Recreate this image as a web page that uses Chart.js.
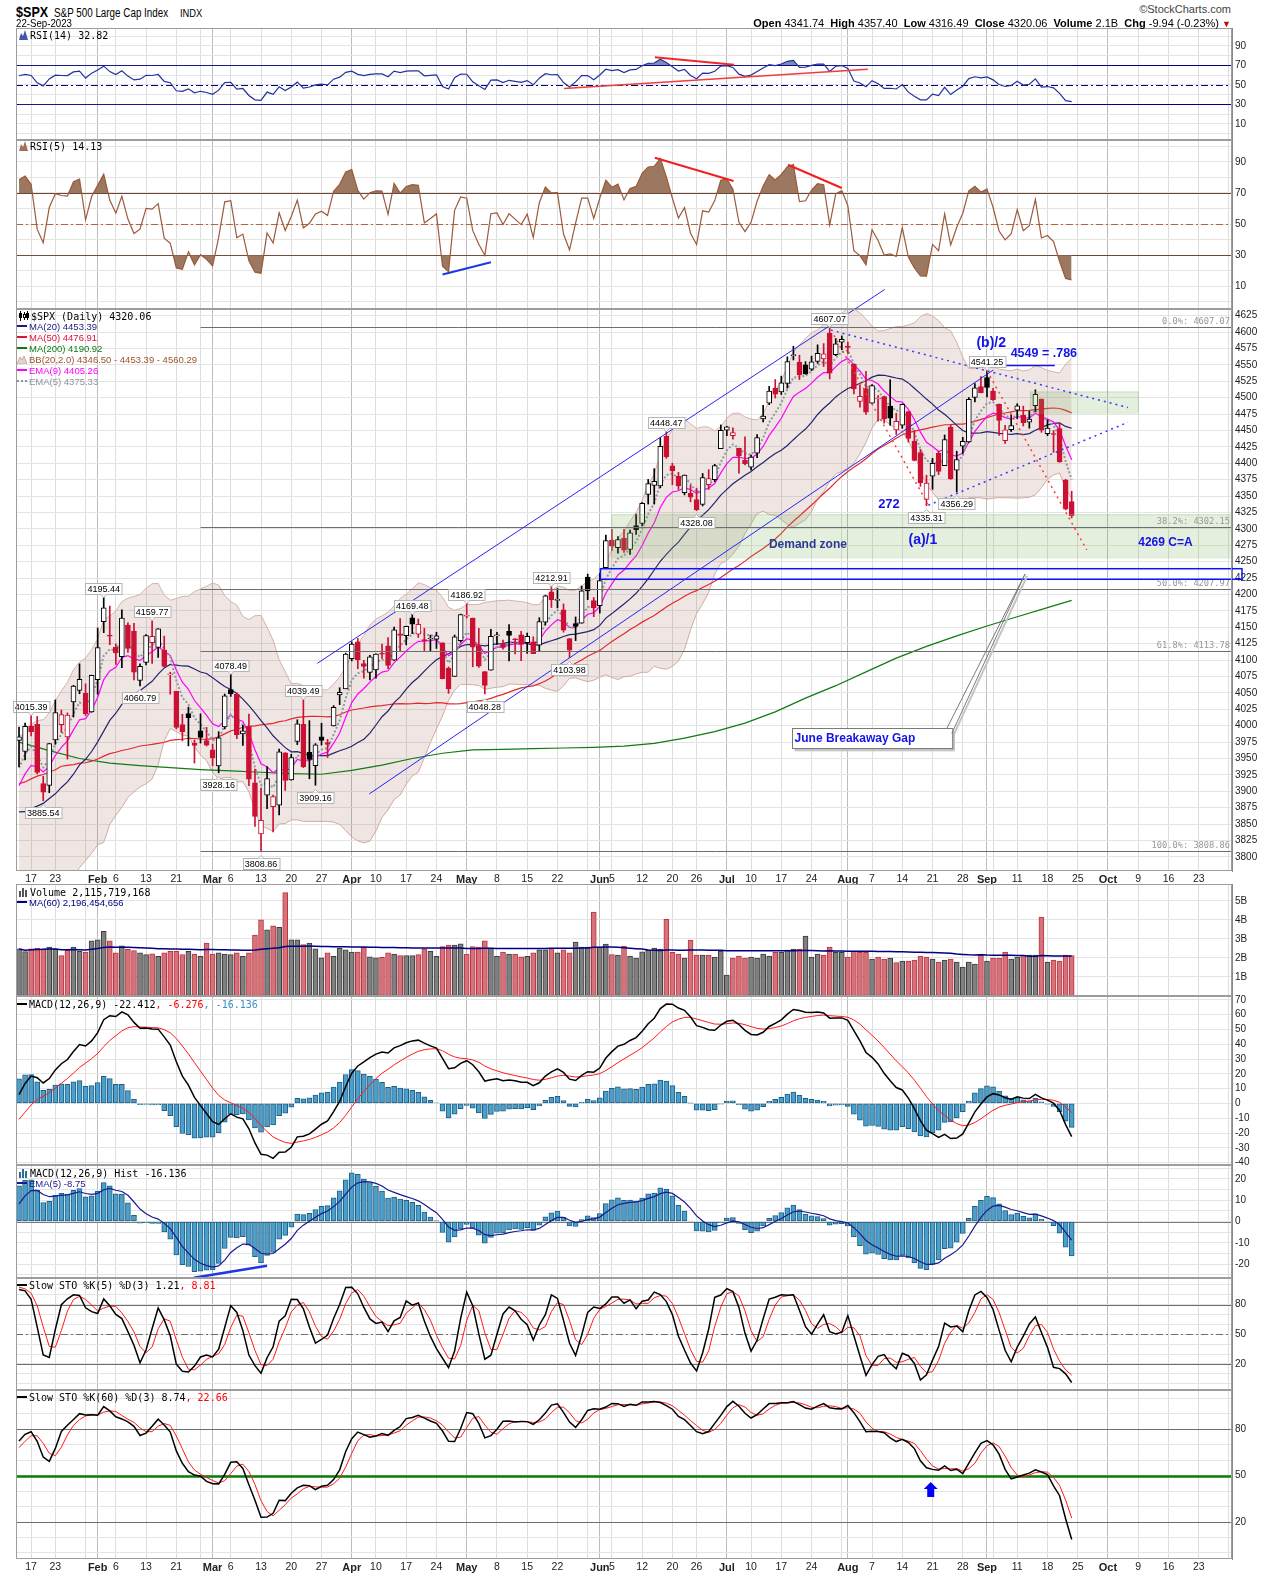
<!DOCTYPE html>
<html>
<head>
<meta charset="utf-8">
<script src="https://cdn.jsdelivr.net/npm/chart.js@4.4.0/dist/chart.umd.min.js"></script>
<style>
  body { margin: 0; background: #fff; }
  #page { position: relative; width: 1275px; height: 1575px; overflow: hidden; background: #fff; font-family: 'Liberation Sans', Arial, sans-serif; }
  canvas { position: absolute; left: 0; z-index: 1; }
  .t { position: absolute; white-space: nowrap; line-height: 1; z-index: 2; }
  .sx { display: inline-block; transform-origin: left center; }
  .mono { font-family: 'DejaVu Sans Mono', monospace; font-size: 10px; color: #000; }
  .sans { font-family: 'Liberation Sans', Arial, sans-serif; font-size: 9.5px; }
  .ico { display: inline-block; vertical-align: -1px; margin-right: 2px; }
  .ln { display: inline-block; width: 10px; height: 0; vertical-align: 3px; margin-right: 2px; }
</style>
</head>
<body>
<div id="page">
  <div class="t" style="left:16px;top:3px;font:bold 15px 'Liberation Sans';"><span class="sx" style="transform:scaleX(0.84);">$SPX</span></div>
  <div class="t" style="left:54px;top:5.5px;font:12px 'Liberation Sans';"><span class="sx" style="transform:scaleX(0.82);">S&amp;P 500 Large Cap Index</span></div>
  <div class="t" style="left:180px;top:6.5px;font:11px 'Liberation Sans';"><span class="sx" style="transform:scaleX(0.85);">INDX</span></div>
  <div class="t" style="left:16px;top:16.5px;font:11px 'Liberation Sans';"><span class="sx" style="transform:scaleX(0.88);">22-Sep-2023</span></div>
  <div class="t" style="right:44px;top:3px;font:11px 'Liberation Sans';color:#444;">©StockCharts.com</div>
  <div class="t" style="right:44px;top:17px;font:11px 'Liberation Sans';color:#000;">
    <b>Open</b> 4341.74&nbsp; <b>High</b> 4357.40&nbsp; <b>Low</b> 4316.49&nbsp; <b>Close</b> 4320.06&nbsp; <b>Volume</b> 2.1B&nbsp; <b>Chg</b> -9.94 (-0.23%) <span style="color:#c00;font-size:9px;">▼</span>
  </div>

  <div class="t mono" style="left:19px;top:30px;"><svg class="ico" width="9" height="10"><path d="M0 10L2 3L4 6L6 0L9 10Z" fill="#4455aa"/></svg>RSI(14) 32.82</div>
  <div class="t mono" style="left:19px;top:141px;"><svg class="ico" width="9" height="10"><path d="M0 10L2 3L4 6L6 0L9 10Z" fill="#a0705a"/></svg>RSI(5) 14.13</div>

  <div class="t mono" style="left:18px;top:311px;"><svg class="ico" width="11" height="10"><path d="M2.5 0v10M6.5 1v8M9.5 0v9" stroke="#000"/><rect x="1" y="2" width="3" height="5"/><rect x="5.5" y="3.5" width="2" height="3" fill="#fff" stroke="#000"/><rect x="8" y="2" width="3" height="5"/></svg>$SPX (Daily) 4320.06</div>
  <div class="t sans" style="left:17px;top:322px;color:#1a1a80;"><span class="ln" style="border-top:2px solid #1a1a80;"></span>MA(20) 4453.39</div>
  <div class="t sans" style="left:17px;top:333px;color:#e0103a;"><span class="ln" style="border-top:2px solid #e0103a;"></span>MA(50) 4476.91</div>
  <div class="t sans" style="left:17px;top:344px;color:#107a10;"><span class="ln" style="border-top:2px solid #107a10;"></span>MA(200) 4190.92</div>
  <div class="t sans" style="left:17px;top:355px;color:#a0522d;"><svg class="ico" width="10" height="9"><path d="M0 9L3 2L5 5L7 1L10 9Z" fill="#e6d3cc" stroke="#c9a89c"/></svg>BB(20,2.0) 4346.50 - 4453.39 - 4560.29</div>
  <div class="t sans" style="left:17px;top:366px;color:#ff00ff;"><span class="ln" style="border-top:2px solid #ff00ff;"></span>EMA(9) 4405.26</div>
  <div class="t sans" style="left:17px;top:377px;color:#8a949e;"><span class="ln" style="border-top:2px dotted #8a949e;"></span>EMA(5) 4375.33</div>

  <div class="t mono" style="left:19px;top:887px;"><svg class="ico" width="9" height="10"><rect x="0" y="4" width="2" height="6" fill="#555"/><rect x="3" y="1" width="2" height="9" fill="#555"/><rect x="6" y="3" width="2" height="7" fill="#555"/></svg>Volume 2,115,719,168</div>
  <div class="t sans" style="left:17px;top:898px;color:#000080;"><span class="ln" style="border-top:2px solid #000080;"></span>MA(60) 2,196,454,656</div>

  <div class="t mono" style="left:17px;top:1000px;"><span class="ln" style="border-top:2px solid #000;"></span>MACD(12,26,9) -22.412<span style="color:#ff0000;">, -6.276</span><span style="color:#3b8fd0;">, -16.136</span></div>

  <div class="t mono" style="left:19px;top:1168px;"><svg class="ico" width="9" height="10"><rect x="0" y="4" width="2" height="6" fill="#2b6d96"/><rect x="3" y="1" width="2" height="9" fill="#2b6d96"/><rect x="6" y="3" width="2" height="7" fill="#2b6d96"/></svg>MACD(12,26,9) Hist -16.136</div>
  <div class="t sans" style="left:17px;top:1179px;color:#1a1a90;"><span class="ln" style="border-top:2px solid #1a1a90;"></span>EMA(5) -8.75</div>

  <div class="t mono" style="left:17px;top:1281px;"><span class="ln" style="border-top:2px solid #000;"></span>Slow STO %K(5) %D(3) 1.21<span style="color:#ff0000;">, 8.81</span></div>
  <div class="t mono" style="left:17px;top:1393px;"><span class="ln" style="border-top:2px solid #000;"></span>Slow STO %K(60) %D(3) 8.74<span style="color:#ff0000;">, 22.66</span></div>
</div>

<script>
// closes before the visible window (Oct 3 2022 - Jan 11 2023), used to seed the indicators
const priorCloses = [
  3678.43, 3790.93, 3783.28, 3744.52, 3639.66, 3612.39, 3588.84, 3577.03, 3669.91, 3583.07, 3677.95,
  3719.98, 3695.16, 3665.78, 3752.75, 3797.34, 3859.11, 3830.60, 3807.30, 3901.06, 3871.98,
  3856.10, 3759.69, 3719.89, 3770.55, 3806.80, 3828.11, 3748.57, 3956.37, 3992.93, 3957.25, 3991.73,
  3958.79, 3946.56, 3965.34, 3949.94, 4003.58, 4027.26, 4026.12, 3963.94, 3957.63, 4080.11,
  4076.57, 4071.70, 3998.84, 3941.26, 3933.92, 3963.51, 3934.38, 3990.56, 4019.65, 3995.32, 3895.75,
  3852.36, 3817.66, 3821.62, 3878.44, 3822.39, 3844.82, 3829.25, 3783.22, 3849.28, 3839.50,
  3824.14, 3852.97, 3808.10, 3895.08, 3892.09, 3919.25, 3969.61
];

const dates = [
  '01-12','01-13','01-17','01-18','01-19','01-20','01-23','01-24','01-25','01-26','01-27','01-30','01-31',
  '02-01','02-02','02-03','02-06','02-07','02-08','02-09','02-10','02-13','02-14','02-15','02-16','02-17','02-21','02-22','02-23','02-24','02-27','02-28',
  '03-01','03-02','03-03','03-06','03-07','03-08','03-09','03-10','03-13','03-14','03-15','03-16','03-17','03-20','03-21','03-22','03-23','03-24','03-27','03-28','03-29','03-30','03-31',
  '04-03','04-04','04-05','04-06','04-10','04-11','04-12','04-13','04-14','04-17','04-18','04-19','04-20','04-21','04-24','04-25','04-26','04-27','04-28',
  '05-01','05-02','05-03','05-04','05-05','05-08','05-09','05-10','05-11','05-12','05-15','05-16','05-17','05-18','05-19','05-22','05-23','05-24','05-25','05-26','05-30','05-31',
  '06-01','06-02','06-05','06-06','06-07','06-08','06-09','06-12','06-13','06-14','06-15','06-16','06-20','06-21','06-22','06-23','06-26','06-27','06-28','06-29','06-30',
  '07-03','07-05','07-06','07-07','07-10','07-11','07-12','07-13','07-14','07-17','07-18','07-19','07-20','07-21','07-24','07-25','07-26','07-27','07-28','07-31',
  '08-01','08-02','08-03','08-04','08-07','08-08','08-09','08-10','08-11','08-14','08-15','08-16','08-17','08-18','08-21','08-22','08-23','08-24','08-25','08-28','08-29','08-30','08-31',
  '09-01','09-05','09-06','09-07','09-08','09-11','09-12','09-13','09-14','09-15','09-18','09-19','09-20','09-21','09-22'
];
const futureDates = ['09-25','09-26','09-27','09-28','09-29','10-02','10-03','10-04','10-05','10-06','10-09','10-10','10-11','10-12','10-13',
  '10-16','10-17','10-18','10-19','10-20','10-23','10-24','10-25','10-26','10-27','10-30'];

const opens = [
  3977.57,3960.60,3999.28,4002.25,3911.84,3909.04,3978.14,4001.74,3982.71,4036.08,4053.72,4049.27,4020.85,
  4070.07,4158.68,4136.69,4119.57,4105.35,4153.47,4144.25,4068.92,4096.62,4126.70,4119.50,4114.75,4077.39,4052.35,4001.83,4018.60,3973.24,3992.36,3977.19,
  3963.34,3938.68,3998.02,4055.15,4048.26,3987.55,3998.66,3912.77,3835.12,3894.01,3876.74,3878.93,3958.69,3917.47,3975.89,4002.04,3959.21,3939.21,3982.93,3974.13,3999.53,4046.74,4056.18,
  4102.20,4128.03,4094.50,4081.15,4085.20,4110.29,4121.72,4100.04,4140.11,4137.17,4164.26,4139.33,4130.48,4132.14,4132.07,4126.43,4087.78,4075.29,4129.63,
  4166.79,4164.10,4122.25,4082.61,4084.73,4136.98,4124.25,4143.74,4132.24,4138.54,4126.65,4127.95,4122.85,4157.68,4204.15,4190.78,4176.80,4132.96,4155.71,4156.16,4226.71,4190.74,
  4183.03,4241.01,4282.99,4271.34,4285.47,4268.69,4304.88,4308.32,4352.61,4366.29,4365.33,4440.95,4396.11,4380.01,4355.40,4354.17,4344.84,4337.36,4367.48,4374.94,4422.44,
  4450.48,4442.04,4422.62,4404.54,4394.23,4415.55,4467.69,4491.50,4514.61,4508.86,4521.78,4563.87,4554.38,4550.16,4543.39,4555.19,4558.96,4598.26,4565.75,4584.82,
  4578.83,4550.93,4494.27,4513.96,4491.58,4498.03,4501.57,4487.16,4450.69,4458.13,4478.87,4433.79,4416.32,4344.88,4380.28,4415.33,4396.44,4455.16,4389.38,4426.03,4432.75,4500.34,4517.01,
  4530.60,4510.06,4490.35,4434.55,4451.30,4480.98,4473.27,4462.65,4487.78,4497.98,4445.13,4445.41,4452.81,4374.36,4341.74
];
const highs = [
  3997.76,4003.95,4015.39,4014.16,3922.94,3972.96,4039.31,4023.92,4019.55,4061.57,4094.21,4063.85,4077.16,
  4148.95,4195.44,4182.36,4124.63,4176.54,4156.85,4156.23,4094.36,4138.90,4159.77,4148.11,4136.54,4081.51,4052.35,4017.37,4028.30,3978.25,4018.05,3997.50,
  3971.73,3990.84,4048.29,4078.49,4050.00,4000.41,4017.81,3934.05,3905.05,3937.29,3894.26,3964.46,3958.91,3956.62,4009.08,4039.49,4007.66,3972.74,4003.83,3979.20,4030.59,4057.85,4110.75,
  4127.66,4133.13,4099.69,4107.32,4109.50,4124.26,4134.37,4150.26,4163.19,4151.72,4169.48,4162.57,4148.57,4138.02,4142.41,4126.43,4089.67,4138.24,4170.06,
  4186.92,4164.10,4148.30,4082.61,4147.02,4142.30,4130.35,4154.28,4132.80,4143.74,4141.25,4135.54,4164.67,4199.12,4212.91,4209.22,4185.68,4132.96,4165.74,4212.87,4231.10,4195.44,
  4232.43,4290.67,4299.28,4288.33,4299.19,4298.01,4322.62,4340.13,4375.37,4391.82,4439.20,4448.47,4400.15,4386.22,4382.25,4366.55,4362.06,4384.42,4390.35,4398.39,4458.48,
  4456.46,4454.06,4422.62,4440.39,4412.60,4443.64,4488.34,4517.38,4527.76,4532.85,4562.30,4578.43,4564.74,4555.00,4563.41,4580.62,4582.47,4607.07,4590.16,4594.22,
  4584.62,4550.93,4519.49,4540.34,4519.84,4503.31,4502.44,4527.37,4476.23,4490.33,4478.87,4449.95,4421.17,4381.82,4407.55,4418.59,4443.18,4458.30,4418.46,4439.56,4500.14,4521.65,4532.26,
  4541.25,4514.29,4490.35,4457.81,4473.53,4490.77,4487.11,4479.39,4511.99,4497.98,4466.36,4449.85,4461.03,4375.70,4357.40
];
const lows = [
  3937.56,3947.67,3984.57,3926.59,3885.54,3897.86,3971.64,3989.79,3949.06,4013.29,4048.70,4015.55,4020.44,
  4048.00,4141.88,4123.36,4093.38,4088.39,4111.67,4069.67,4060.79,4092.67,4095.01,4103.98,4089.49,4047.95,3995.19,3976.90,3969.19,3943.08,3973.55,3968.98,
  3939.05,3928.16,3995.17,4044.61,3980.31,3969.76,3908.70,3846.32,3808.86,3873.63,3838.24,3864.11,3901.27,3916.89,3971.19,3936.17,3919.05,3909.16,3970.49,3951.53,3999.53,4032.10,4056.18,
  4098.79,4086.87,4072.56,4069.84,4072.55,4102.61,4086.94,4099.40,4113.20,4123.18,4140.36,4134.49,4114.57,4113.86,4117.77,4071.38,4049.35,4075.29,4127.18,
  4164.12,4089.72,4088.86,4048.28,4084.73,4123.81,4116.65,4098.92,4109.29,4099.12,4110.27,4109.86,4113.62,4153.50,4180.20,4179.68,4142.54,4103.98,4129.73,4156.16,4192.18,4166.15,
  4171.64,4241.01,4266.82,4263.09,4263.96,4261.07,4291.70,4304.37,4337.86,4337.85,4362.60,4407.44,4367.19,4360.14,4351.82,4341.34,4328.08,4335.00,4360.22,4371.97,4422.44,
  4442.29,4436.61,4385.05,4397.40,4389.92,4408.46,4463.23,4489.36,4499.56,4504.90,4514.59,4557.48,4527.56,4535.79,4541.29,4552.42,4547.58,4528.56,4564.01,4573.14,
  4567.53,4505.75,4485.54,4474.55,4491.15,4464.39,4461.33,4457.92,4443.98,4453.44,4432.19,4403.55,4364.83,4335.31,4360.30,4382.77,4396.44,4375.55,4356.29,4414.98,4431.68,4493.59,4507.39,
  4501.35,4496.01,4442.38,4430.46,4448.38,4467.89,4456.83,4453.52,4478.69,4447.21,4442.11,4416.61,4401.38,4329.17,4316.49
];
const closes = [
  3983.17,3999.09,3990.97,3928.86,3898.85,3972.61,4019.81,4016.95,4016.22,4060.43,4070.56,4017.77,4076.60,
  4119.21,4179.76,4136.48,4111.08,4164.00,4117.86,4081.50,4090.46,4137.29,4136.13,4147.60,4090.41,4079.09,3997.34,3991.05,4012.32,3970.04,3982.24,3970.15,
  3951.39,3981.35,4045.64,4048.42,3986.37,3992.01,3918.32,3861.59,3855.76,3919.29,3891.93,3960.28,3916.64,3951.57,4002.87,3936.97,3948.72,3970.99,3977.53,3971.27,4027.81,4050.83,4109.31,
  4124.51,4100.60,4090.38,4105.02,4109.11,4108.94,4091.95,4146.22,4137.64,4151.32,4154.87,4154.52,4129.79,4133.52,4137.04,4071.63,4055.99,4135.35,4169.48,
  4167.87,4119.58,4090.75,4061.22,4136.25,4138.12,4119.17,4137.64,4130.62,4124.08,4136.28,4109.90,4158.77,4198.05,4191.98,4192.63,4145.58,4115.24,4151.28,4205.45,4205.52,4179.83,
  4221.02,4282.37,4273.79,4283.85,4267.52,4293.93,4298.86,4338.93,4369.01,4372.59,4425.84,4409.59,4388.71,4365.69,4381.89,4348.33,4328.82,4378.41,4376.86,4396.44,4450.38,
  4455.59,4446.82,4411.59,4398.95,4409.53,4439.26,4472.16,4510.04,4505.42,4522.79,4554.98,4565.72,4534.87,4536.34,4554.64,4567.46,4566.75,4537.41,4582.23,4588.96,
  4576.73,4513.39,4501.89,4478.03,4518.44,4499.38,4467.71,4468.83,4464.05,4489.72,4437.86,4404.33,4370.36,4369.71,4399.77,4387.55,4436.01,4376.31,4405.71,4433.31,4497.63,4514.87,4507.66,
  4515.77,4496.83,4465.48,4451.14,4457.49,4487.46,4461.90,4467.44,4505.10,4450.32,4453.53,4443.95,4402.20,4330.00,4320.06
];
// volume in billions of shares
const volumes = [
  2.47,2.33,2.47,2.52,2.47,2.57,2.47,2.12,2.40,2.57,2.35,2.30,2.90,
  2.95,3.40,2.90,2.26,2.64,2.45,2.38,2.26,2.17,2.22,2.08,2.26,2.34,2.34,2.17,2.34,2.20,2.08,2.78,
  2.20,2.26,2.20,2.17,2.26,2.08,2.26,3.20,4.00,3.47,3.68,3.60,5.43,2.95,2.95,2.70,2.78,2.48,2.00,2.26,2.08,2.50,2.43,
  2.30,2.30,2.57,2.05,2.00,2.03,2.26,2.20,2.12,2.12,2.12,2.17,2.47,2.34,2.08,2.60,2.67,2.67,2.74,
  2.20,2.60,2.57,2.90,2.52,2.08,2.30,2.20,2.20,2.05,2.08,2.26,2.43,2.43,2.52,2.26,2.43,2.26,2.83,2.57,2.57,4.40,
  2.57,2.73,2.17,2.15,2.62,2.09,1.99,2.32,2.41,2.51,2.46,4.03,2.29,2.20,1.99,2.93,2.15,2.15,2.15,2.04,2.36,
  1.10,1.99,2.09,1.99,2.04,1.99,2.20,2.09,2.29,2.29,2.41,2.46,2.46,3.14,2.04,2.20,2.15,2.57,2.29,2.29,
  2.04,2.36,2.29,2.29,1.94,2.04,1.94,1.99,1.75,1.83,1.83,1.88,2.09,2.04,1.94,1.78,1.88,1.94,1.78,1.52,1.78,1.68,2.20,
  1.83,1.99,1.99,2.30,1.94,2.04,2.15,2.15,2.15,4.14,1.78,1.88,1.83,2.15,2.12
];
// 200-day average
const ma200Dates = ['01-12','01-20','01-27','02-03','02-10','02-17','02-27','03-06','03-13','03-20','03-27','04-03','04-11','04-18','04-25',
  '05-02','05-09','05-16','05-23','05-31','06-07','06-14','06-22','06-29','07-07','07-14','07-21','07-28','08-04','08-11','08-18','08-25','09-01','09-11','09-18','09-22'];
const ma200Values = [3975,3962,3950,3943,3939,3936,3933,3931,3929,3927,3926,3932,3940,3950,3958,
  3963,3964,3965,3966,3967,3969,3973,3981,3991,4004,4021,4042,4061,4082,4103,4121,4137,4152,4166,4180,4191];

const weekStartDates = ['01-17','01-23','01-30','02-06','02-13','02-21','02-27','03-06','03-13','03-20','03-27','04-03','04-10','04-17','04-24',
  '05-01','05-08','05-15','05-22','05-30','06-05','06-12','06-20','06-26','07-03','07-10','07-17','07-24','07-31','08-07','08-14','08-21','08-28',
  '09-05','09-11','09-18','09-25','10-02','10-09','10-16','10-23','10-30'];
const weekLabelDates = ['01-17','01-23','02-06','02-13','02-21','03-06','03-13','03-20','03-27','04-10','04-17','04-24','05-08','05-15','05-22',
  '06-05','06-12','06-20','06-26','07-10','07-17','07-24','08-07','08-14','08-21','08-28','09-11','09-18','09-25','10-09','10-16','10-23'];
const weekLabelTexts = ['17','23','6','13','21','6','13','20','27','10','17','24','8','15','22',
  '5','12','20','26','10','17','24','7','14','21','28','11','18','25','9','16','23'];
const monthLabelDates = ['02-01','03-01','04-03','05-01','06-01','07-03','08-01','09-01','10-02'];
const monthLabelTexts = ['Feb','Mar','Apr','May','Jun','Jul','Aug','Sep','Oct'];

const pivotDates = ['01-17','01-19','02-02','02-10','02-14','03-02','03-06','03-13','03-22','03-24','04-18','05-01','05-04','05-19','05-24','06-16','06-26','07-27','08-18','08-25','09-01'];
const pivotKinds = ['h','l','h','l','h','l','h','l','h','l','h','h','l','h','l','h','l','h','l','l','h'];
const fibLevels = [4607.07, 4302.15, 4207.97, 4113.78, 3808.86];
const fibNames = ['0.0%', '38.2%', '50.0%', '61.8%', '100.0%'];

// ---------- indicators ----------
const W = priorCloses.length;
const allC = priorCloses.concat(closes);
const allH = priorCloses.concat(highs);
const allL = priorCloses.concat(lows);
const tail = a => a.slice(W);

function sma(a, n) {
  return a.map((v, i) => {
    if (i < n - 1) return null;
    let s = 0;
    for (let j = i - n + 1; j <= i; j++) { if (a[j] == null) return null; s += a[j]; }
    return s / n;
  });
}
function stdev(a, n) {
  const m = sma(a, n);
  return a.map((v, i) => {
    if (m[i] == null) return null;
    let s = 0;
    for (let j = i - n + 1; j <= i; j++) s += (a[j] - m[i]) ** 2;
    return Math.sqrt(s / n);
  });
}
function ema(a, n) {
  const k = 2 / (n + 1);
  let e = null, s = 0, c = 0;
  return a.map(v => {
    if (v == null) return null;
    if (e == null) { s += v; c++; if (c < n) return null; e = s / n; return e; }
    e = v * k + e * (1 - k);
    return e;
  });
}
function rsi(a, n) {
  const out = a.map(() => null);
  let g = 0, l = 0;
  for (let i = 1; i <= n; i++) { const d = a[i] - a[i - 1]; if (d > 0) g += d; else l -= d; }
  g /= n; l /= n;
  out[n] = 100 - 100 / (1 + g / l);
  for (let i = n + 1; i < a.length; i++) {
    const d = a[i] - a[i - 1];
    g = (g * (n - 1) + Math.max(d, 0)) / n;
    l = (l * (n - 1) + Math.max(-d, 0)) / n;
    out[i] = l === 0 ? 100 : 100 - 100 / (1 + g / l);
  }
  return out;
}
function slowSto(n) {
  const fast = allC.map((c, i) => {
    if (i < n - 1) return null;
    let hh = -Infinity, ll = Infinity;
    for (let j = i - n + 1; j <= i; j++) { hh = Math.max(hh, allH[j]); ll = Math.min(ll, allL[j]); }
    return (c - ll) / (hh - ll) * 100;
  });
  const k = sma(fast, 3);
  return [tail(k), tail(sma(k, 3))];
}

const ma20 = tail(sma(allC, 20));
const ma50 = tail(sma(allC, 50));
const sd20 = tail(stdev(allC, 20));
const bbUp = ma20.map((m, i) => m + 2 * sd20[i]);
const bbLo = ma20.map((m, i) => m - 2 * sd20[i]);
const ema9 = tail(ema(allC, 9));
const ema5 = tail(ema(allC, 5));
const ma200 = dates.map(d => { const k = ma200Dates.indexOf(d); return k < 0 ? null : ma200Values[k]; });
const rsi14 = tail(rsi(allC, 14));
const rsi5 = tail(rsi(allC, 5));
const e12 = ema(allC, 12), e26 = ema(allC, 26);
const macdAll = e12.map((v, i) => v == null || e26[i] == null ? null : v - e26[i]);
const sigAll = ema(macdAll, 9);
const histAll = macdAll.map((v, i) => v == null || sigAll[i] == null ? null : v - sigAll[i]);
const macd = tail(macdAll), signal = tail(sigAll), hist = tail(histAll), histEma5 = tail(ema(histAll, 5));
const [sto5K, sto5D] = slowSto(5);
const [sto60K, sto60D] = slowSto(60);
const volMA60 = volumes.map((v, i) => {
  const s = volumes.slice(Math.max(0, i - 59), i + 1);
  return s.reduce((a, b) => a + b, 0) / s.length;
});

const prevClose = i => (i ? closes[i - 1] : priorCloses[W - 1]);
const candleColor = closes.map((c, i) => (c >= prevClose(i) ? '#000000' : '#cc1034'));
const bodyFill = closes.map((c, i) => (c >= opens[i] ? '#ffffff' : candleColor[i]));
const volFill = candleColor.map(c => (c === '#000000' ? '#808080' : '#d4737b'));
const volLine = candleColor.map(c => (c === '#000000' ? '#3c3c3c' : '#c0323e'));

// ---------- axes ----------
const allDates = dates.concat(futureDates);
const xTickText = allDates.map(d => {
  const m = monthLabelDates.indexOf(d);
  if (m >= 0) return monthLabelTexts[m];
  const w = weekLabelDates.indexOf(d);
  return w >= 0 ? weekLabelTexts[w] : '';
});
const isMonth = allDates.map(d => monthLabelDates.includes(d));
const isWeek = allDates.map(d => weekStartDates.includes(d));

Chart.defaults.font.family = "'Liberation Sans', Arial, sans-serif";

const frame = {
  id: 'frame',
  afterDraw(c) {
    const a = c.chartArea, ctx = c.ctx;
    ctx.save();
    ctx.strokeStyle = '#9d9d9d';
    ctx.lineWidth = 1;
    ctx.strokeRect(Math.round(a.left) + 0.5, Math.round(a.top) + 0.5, Math.round(a.width) - 1, Math.round(a.height) - 1);
    ctx.restore();
  }
};
const hlines = list => ({
  id: 'hlines',
  beforeDatasetsDraw(c) {
    const { ctx, chartArea: a, scales: { y } } = c;
    ctx.save();
    list.forEach(h => {
      const py = Math.round(y.getPixelForValue(h.v)) + 0.5;
      ctx.strokeStyle = h.color;
      ctx.lineWidth = h.w || 1;
      ctx.setLineDash(h.dash || []);
      ctx.beginPath(); ctx.moveTo(a.left, py); ctx.lineTo(a.right, py); ctx.stroke();
    });
    ctx.restore();
  }
});
const segs = list => ({
  id: 'segs',
  afterDatasetsDraw(c) {
    const { ctx, scales: { x, y } } = c;
    ctx.save();
    list.forEach(s => {
      ctx.strokeStyle = s.color;
      ctx.lineWidth = s.w;
      ctx.setLineDash(s.dash || []);
      ctx.beginPath();
      ctx.moveTo(x.getPixelForValue(s.a[0]), y.getPixelForValue(s.a[1]));
      ctx.lineTo(x.getPixelForValue(s.b[0]), y.getPixelForValue(s.b[1]));
      ctx.stroke();
    });
    ctx.restore();
  }
});

function panel(top, bottom, cfg) {
  const padTop = cfg.padTop || 0, lab = cfg.xLabels ? 14 : 0;
  const cv = document.createElement('canvas');
  cv.width = 1275;
  cv.height = bottom - top + padTop + lab;
  cv.style.top = (top - padTop) + 'px';
  document.getElementById('page').appendChild(cv);
  return new Chart(cv, {
    type: 'bar',
    data: { labels: allDates, datasets: cfg.datasets },
    options: {
      responsive: false,
      animation: false,
      devicePixelRatio: 1,
      events: [],
      layout: { padding: { top: padTop, left: 16, right: 0, bottom: 0 } },
      plugins: { legend: { display: false }, tooltip: { enabled: false } },
      scales: {
        x: {
          type: 'category',
          offset: true,
          afterFit: s => { s.height = lab; s.paddingLeft = 0; s.paddingRight = 0; },
          ticks: {
            display: !!cfg.xLabels,
            autoSkip: false,
            maxRotation: 0,
            minRotation: 0,
            padding: 2,
            color: '#222',
            callback: (v, i) => xTickText[i],
            font: c => ({ size: isMonth[c.index] ? 11 : 10.5, weight: isMonth[c.index] ? 'bold' : 'normal' })
          },
          grid: {
            offset: false,
            drawTicks: false,
            color: c => (isMonth[c.index] ? '#bcbcbc' : isWeek[c.index] ? '#dedede' : 'rgba(0,0,0,0)')
          },
          border: { display: false }
        },
        y: {
          position: 'right',
          min: cfg.min,
          max: cfg.max,
          afterFit: s => { s.width = 43; s.paddingTop = 0; s.paddingBottom = 0; },
          ticks: {
            stepSize: cfg.step,
            maxTicksLimit: 200,
            autoSkip: false,
            includeBounds: false,
            padding: 3,
            color: '#222',
            font: { size: 10 },
            callback: cfg.label
          },
          grid: { color: '#e4e4e4', drawTicks: false },
          border: { display: true, color: '#8a8a8a' }
        }
      }
    },
    plugins: [frame].concat(cfg.plugins || [])
  });
}

const line = (data, color, w, extra) => Object.assign({ type: 'line', data, borderColor: color, borderWidth: w, pointRadius: 0, tension: 0, fill: false }, extra || {});
const every = list => v => (list.includes(v) ? String(v) : '');

// ---------- RSI(14) ----------
panel(28, 140, {
  min: -6.6, max: 108.3, step: 10, label: every([90, 70, 50, 30, 10]),
  datasets: [
    line(rsi14, '#2233a0', 1.2, { fill: { target: { value: 70 }, above: '#7d8cb4', below: 'rgba(0,0,0,0)' } }),
    line(rsi14, 'rgba(0,0,0,0)', 0, { fill: { target: { value: 30 }, above: 'rgba(0,0,0,0)', below: '#7d8cb4' } })
  ],
  plugins: [
    hlines([{ v: 70, color: '#000080', w: 1.2 }, { v: 30, color: '#000080', w: 1.2 }, { v: 50, color: '#000080', dash: [7, 3, 2, 3] }]),
    segs([
      { a: [105.1, 78.2], b: [118.2, 70.6], color: '#f02828', w: 2 },
      { a: [90.1, 46.3], b: [140.3, 65.9], color: '#f03c3c', w: 1.5 }
    ])
  ]
});

// ---------- RSI(5) ----------
panel(140, 309, {
  min: -4.5, max: 104, step: 10, label: every([90, 70, 50, 30, 10]),
  datasets: [
    line(rsi5, '#9b5a3a', 1.2, { fill: { target: { value: 70 }, above: '#9c7860', below: 'rgba(0,0,0,0)' } }),
    line(rsi5, 'rgba(0,0,0,0)', 0, { fill: { target: { value: 30 }, above: 'rgba(0,0,0,0)', below: '#9c7860' } })
  ],
  plugins: [
    hlines([{ v: 70, color: '#6e4636', w: 1 }, { v: 30, color: '#6e4636', w: 1 }, { v: 50, color: '#b5643c', dash: [7, 3, 2, 3] }]),
    segs([
      { a: [105.1, 92.6], b: [118.1, 77.7], color: '#f02020', w: 2 },
      { a: [127.1, 88.1], b: [136.0, 73.2], color: '#f02020', w: 2 },
      { a: [70.0, 17.7], b: [78.0, 25.5], color: '#1f36e6', w: 2 }
    ])
  ]
});

// ---------- price ----------
const priceMarks = {
  id: 'priceMarks',
  afterDatasetsDraw(c) {
    const { ctx, chartArea: a, scales: { x, y } } = c;
    const X = i => x.getPixelForValue(i), Y = p => y.getPixelForValue(p);
    ctx.save();

    // demand / supply zones
    [[97.9, null, 4256.7, 4322.3], [167.1, 185.1, 4477.4, 4509.4]].forEach(([i0, i1, p0, p1]) => {
      const x0 = X(i0), x1 = i1 == null ? a.right : X(i1);
      ctx.fillStyle = 'rgba(120,175,90,0.2)';
      ctx.fillRect(x0, Y(p1), x1 - x0, Y(p0) - Y(p1));
      ctx.strokeStyle = 'rgba(140,185,120,0.35)';
      ctx.strokeRect(x0 + 0.5, Y(p1) + 0.5, x1 - x0 - 1, Y(p0) - Y(p1));
    });

    // retracement levels
    ctx.font = "8.7px 'DejaVu Sans Mono'";
    ctx.textAlign = 'right';
    ctx.textBaseline = 'middle';
    fibLevels.forEach((p, k) => {
      const py = Math.round(Y(p)) + 0.5;
      ctx.strokeStyle = '#6e6e6e';
      ctx.lineWidth = 1;
      ctx.beginPath(); ctx.moveTo(X(30), py); ctx.lineTo(a.right, py); ctx.stroke();
      ctx.fillStyle = '#979797';
      ctx.fillText(fibNames[k] + ': ' + p.toFixed(2), a.right - 2, py - 6);
    });

    // June gap box
    ctx.strokeStyle = '#0a14ff';
    ctx.lineWidth = 1.5;
    ctx.strokeRect(X(96.1), Y(4239.3), a.right + 10 - X(96.1), Y(4223.2) - Y(4239.3));

    // channel and swing lines
    const seg = (p, q, color, w, dash) => {
      ctx.strokeStyle = color; ctx.lineWidth = w; ctx.setLineDash(dash || []);
      ctx.beginPath(); ctx.moveTo(X(p[0]), Y(p[1])); ctx.lineTo(X(q[0]), Y(q[1])); ctx.stroke();
      ctx.setLineDash([]);
    };
    seg([49.3, 4095], [143.1, 4665], '#2626f0', 1);
    seg([57.9, 3896], [161, 4542], '#2626f0', 1);
    seg([134.2, 4603], [183.3, 4485], '#3a3aff', 1.5, [2, 4]);
    seg([150.3, 4336], [183.3, 4462.5], '#3a3aff', 1.5, [2, 4]);
    seg([134.7, 4595], [150.2, 4338], '#ff3a3a', 1.5, [2, 4]);
    seg([160, 4541], [176.5, 4268], '#ff3a3a', 1.5, [2, 4]);
    seg([163.1, 4549], [171.2, 4549], '#1414e6', 1.5);

    // wave notes
    ctx.textAlign = 'center';
    [['(b)/2', 160.7, 4583, 14, '#1414e6'], ['4549 = .786', 169.4, 4566.6, 12.5, '#1414e6'], ['272', 143.8, 4337.5, 13, '#1414e6'],
     ['(a)/1', 149.4, 4283, 14, '#1414e6'], ['Demand zone', 130.4, 4276.5, 12, '#2d3a94'], ['4269 C=A', 189.5, 4279.6, 12, '#1414e6']]
      .forEach(([t, i, p, s, col]) => {
        ctx.font = `bold ${s}px 'Liberation Sans'`;
        ctx.fillStyle = col;
        ctx.fillText(t, X(i), Y(p));
      });

    // swing high / low tags
    ctx.font = "9px 'Liberation Sans'";
    pivotDates.forEach((d, k) => {
      const i = dates.indexOf(d);
      const up = pivotKinds[k] === 'h';
      const v = up ? highs[i] : lows[i];
      const t = v.toFixed(2);
      const px = X(i), py = Y(v);
      const w = ctx.measureText(t).width + 4, h = 11;
      const bx = Math.round(px - w / 2) + 0.5;
      const by = Math.round(up ? py - 3.5 - h : py + 6.5) + 0.5;
      ctx.fillStyle = '#fff';
      ctx.strokeStyle = '#b4b4b4';
      ctx.lineWidth = 1;
      ctx.fillRect(bx, by, w, h);
      ctx.strokeRect(bx, by, w, h);
      const ny = up ? by + h : by;
      const tip = up ? ny + 3 : ny - 3;
      ctx.beginPath(); ctx.moveTo(px - 3, ny); ctx.lineTo(px, tip); ctx.lineTo(px + 3, ny); ctx.closePath();
      ctx.fill();
      ctx.beginPath(); ctx.moveTo(px - 3, ny); ctx.lineTo(px, tip); ctx.lineTo(px + 3, ny); ctx.stroke();
      ctx.fillStyle = '#000';
      ctx.fillText(t, px, by + h / 2 + 0.5);
    });

    // callout
    const cx0 = X(127.7), cx1 = X(154.2), cy0 = Y(3996), cy1 = Y(3965.5);
    const tx = X(166.3), ty = Y(4231.3);
    ctx.strokeStyle = '#c4c4c4';
    ctx.lineWidth = 2;
    ctx.beginPath(); ctx.moveTo(cx1 + 2, cy0 + 6); ctx.lineTo(tx + 2, ty + 2); ctx.stroke();
    ctx.fillStyle = '#c4c4c4';
    ctx.fillRect(cx0 + 3, cy0 + 3, cx1 - cx0, cy1 - cy0);
    ctx.fillStyle = '#fff';
    ctx.fillRect(cx0, cy0, cx1 - cx0, cy1 - cy0);
    ctx.strokeStyle = '#7a7a7a';
    ctx.lineWidth = 1;
    ctx.strokeRect(Math.round(cx0) + 0.5, Math.round(cy0) + 0.5, cx1 - cx0, cy1 - cy0);
    ctx.beginPath(); ctx.moveTo(cx1 - 5, cy0); ctx.lineTo(tx, ty); ctx.lineTo(cx1, cy0 + 5); ctx.stroke();
    ctx.font = "bold 12px 'Liberation Sans'";
    ctx.textAlign = 'left';
    ctx.fillStyle = '#1414e6';
    ctx.fillText('June Breakaway Gap', cx0 + 3, (cy0 + cy1) / 2 + 0.5);

    ctx.restore();
  }
};

panel(309, 871, {
  padTop: 22, xLabels: true,
  min: 3778.5, max: 4635.2, step: 25, label: v => String(v),
  datasets: [
    line(bbUp, '#d6b2a8', 1, { fill: '+1', backgroundColor: 'rgba(160,100,90,0.17)', order: 20 }),
    line(bbLo, '#d6b2a8', 1, { order: 20 }),
    line(ma200, '#127a12', 1.2, { spanGaps: true, order: 19 }),
    line(ma50, '#e4282e', 1.2, { order: 18 }),
    line(ma20, '#23236e', 1.2, { order: 17 }),
    line(ema9, '#ff00ff', 1.2, { order: 16 }),
    line(ema5, '#8e98a3', 2, { borderDash: [2, 2], order: 15 }),
    { type: 'bar', data: lows.map((l, i) => [l, highs[i]]), backgroundColor: candleColor, borderWidth: 0, barThickness: 1, grouped: false, order: 4 },
    { type: 'bar', data: opens.map((o, i) => [o, closes[i]]), backgroundColor: bodyFill, borderColor: candleColor, borderWidth: 1,
      borderSkipped: false, barThickness: 5, minBarLength: 1, grouped: false, order: 3 }
  ],
  plugins: [priceMarks]
});

// ---------- volume ----------
panel(884, 996, {
  min: 0, max: 5.88, step: 1, label: v => (v > 0 ? v + 'B' : ''),
  datasets: [
    line(volMA60, '#000080', 1.5, { order: 1 }),
    { type: 'bar', data: volumes, backgroundColor: volFill, borderColor: volLine, borderWidth: 1, borderSkipped: false, barThickness: 5, order: 2 }
  ]
});

// ---------- MACD ----------
panel(996, 1165, {
  padTop: 8,
  min: -41.6, max: 72.6, step: 10, label: v => String(v),
  datasets: [
    line(macd, '#000000', 1.5, { order: 1 }),
    line(signal, '#ff1a1a', 1, { order: 2 }),
    { type: 'bar', data: hist, backgroundColor: '#4b9fca', borderColor: '#1e5f86', borderWidth: 1, borderSkipped: false, barThickness: 5, order: 3 }
  ]
});

// ---------- MACD histogram ----------
panel(1165, 1278, {
  min: -26.5, max: 26.5, step: 5, label: v => (v % 10 === 0 ? String(v) : ''),
  datasets: [
    line(histEma5, '#1a1a90', 1.2, { order: 1 }),
    { type: 'bar', data: hist, backgroundColor: '#4b9fca', borderColor: '#1e5f86', borderWidth: 1, borderSkipped: false, barThickness: 5, order: 2 }
  ],
  plugins: [
    hlines([{ v: 0, color: '#7a7a7a' }]),
    segs([{ a: [28.9, -26.4], b: [41, -20.8], color: '#1f36e6', w: 2.5 }])
  ]
});

// ---------- Slow STO 5 ----------
panel(1278, 1390, {
  min: -6.4, max: 107, step: 10, label: every([80, 50, 20]),
  datasets: [line(sto5K, '#000000', 1.5, { order: 1 }), line(sto5D, '#ff1a1a', 1, { order: 2 })],
  plugins: [hlines([{ v: 80, color: '#6e6e6e' }, { v: 20, color: '#6e6e6e' }, { v: 50, color: '#6e6e6e', dash: [7, 3, 2, 3] }])]
});

// ---------- Slow STO 60 ----------
const arrow = {
  id: 'arrow',
  afterDatasetsDraw(c) {
    const { ctx, scales: { x, y } } = c;
    const px = x.getPixelForValue(150.7), top = y.getPixelForValue(46), bot = y.getPixelForValue(36.2);
    ctx.save();
    ctx.fillStyle = '#0000ff';
    ctx.beginPath();
    ctx.moveTo(px, top); ctx.lineTo(px + 7, top + 7); ctx.lineTo(px + 3.5, top + 7); ctx.lineTo(px + 3.5, bot);
    ctx.lineTo(px - 3.5, bot); ctx.lineTo(px - 3.5, top + 7); ctx.lineTo(px - 7, top + 7); ctx.closePath();
    ctx.fill();
    ctx.restore();
  }
};
panel(1390, 1559, {
  xLabels: true,
  min: -3.9, max: 105.5, step: 10, label: every([80, 50, 20]),
  datasets: [line(sto60K, '#000000', 1.5, { order: 1 }), line(sto60D, '#ff1a1a', 1, { order: 2 })],
  plugins: [hlines([{ v: 80, color: '#6e6e6e' }, { v: 20, color: '#6e6e6e' }, { v: 50, color: '#0a7d0a', w: 2.5 }]), arrow]
});
</script>
</body>
</html>
